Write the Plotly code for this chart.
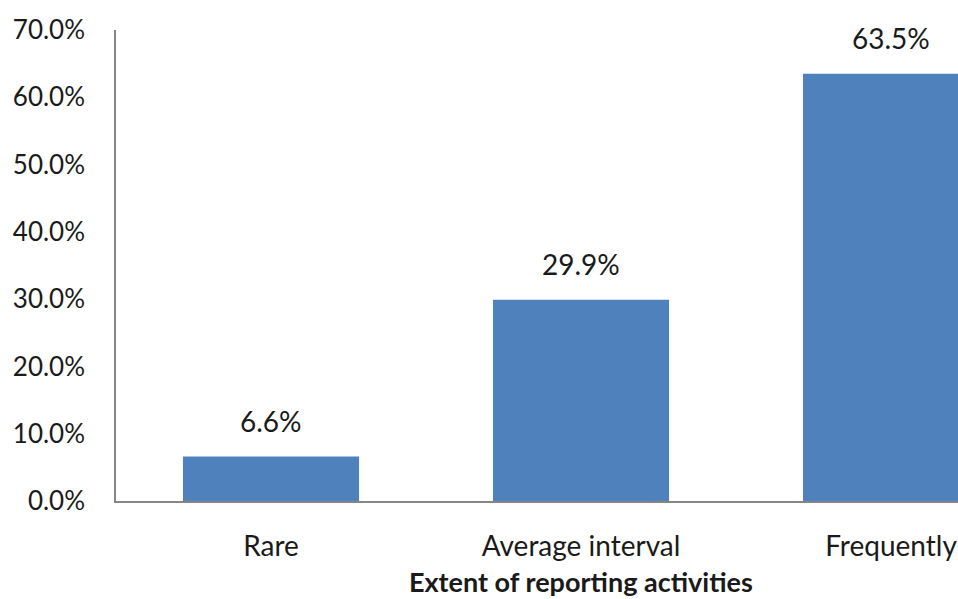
import plotly.graph_objects as go

# Survey results: how often reporting activities take place
categories = ["Rare", "Average interval", "Frequently"]
shares = [6.6, 29.9, 63.5]
y_ticks = [0, 10, 20, 30, 40, 50, 60, 70]
y_tick_labels = [f"{v:.1f}%" for v in y_ticks]
x_title = "Extent of reporting activities"

BAR_COLOR = "#4F81BD"
AXIS_COLOR = "#868686"
TEXT_COLOR = "#1a1a1a"
FONT = "Lato, 'Open Sans', sans-serif"

fig = go.Figure(
    go.Bar(
        x=categories,
        y=shares,
        marker=dict(color=BAR_COLOR, line=dict(width=0)),
        width=0.568,
        hoverinfo="x+y",
    )
)

# value labels above each bar
for cat, val in zip(categories, shares):
    fig.add_annotation(
        x=cat, y=val, text=f"{val:.1f}%", showarrow=False,
        yanchor="bottom", yshift=17,
        font=dict(family=FONT, size=28, color=TEXT_COLOR),
    )

# axis title, centred under the middle category
fig.add_annotation(
    x=categories[1], y=0, yref="y", text=f"<b>{x_title}</b>", showarrow=False,
    yanchor="middle", yshift=-80,
    font=dict(family=FONT, size=27, color=TEXT_COLOR),
)

fig.update_layout(
    width=958, height=599,
    margin=dict(l=116, r=0, t=30, b=98),
    paper_bgcolor="white", plot_bgcolor="white",
    showlegend=False,
)

fig.update_xaxes(
    range=[-0.5, 2.216],
    showline=True, linecolor=AXIS_COLOR, linewidth=1.5,
    showgrid=False, zeroline=False, ticks="",
    ticklabelstandoff=20,
    tickfont=dict(family=FONT, size=28, color=TEXT_COLOR),
)

fig.update_yaxes(
    range=[0, 70],
    tickvals=y_ticks, ticktext=y_tick_labels,
    showline=True, linecolor=AXIS_COLOR, linewidth=1.5,
    showgrid=False, zeroline=False, ticks="",
    ticklabelstandoff=24,
    tickfont=dict(family=FONT, size=26, color=TEXT_COLOR),
)

fig.write_html("out.html")
